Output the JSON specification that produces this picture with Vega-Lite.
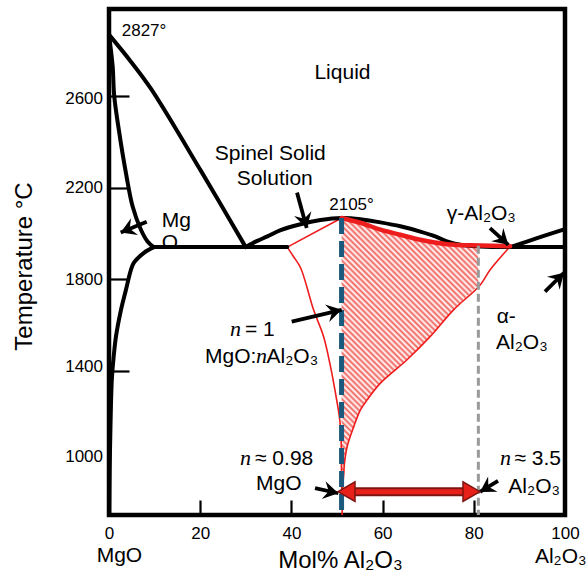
{
"$schema":"https://vega.github.io/schema/vega-lite/v6.json",
"width":456,"height":506,
"autosize":{"type":"none"},
"padding":{"left":109,"top":9,"right":22,"bottom":66},
"background":"white",
"config":{"view":{"stroke":"black","strokeWidth":4.5},"font":"Liberation Sans",
 "axis":{"domain":false,"grid":false,"tickColor":"black","tickWidth":2.2,"labelFont":"Liberation Sans","labelFontSize":17,"labelColor":"black","titleFont":"Liberation Sans","titleFontSize":24,"titleFontWeight":"normal","titleColor":"black"}},
"datasets":{
 "black":[
  {"seg":"liq1","x":0,"t":2868},{"seg":"liq1","x":4.81,"t":2750},{"seg":"liq1","x":9.19,"t":2632},{"seg":"liq1","x":20.13,"t":2274},{"seg":"liq1","x":29.98,"t":1940},
  {"seg":"solTop","x":0,"t":2868},{"seg":"solTop","x":0.8,"t":2730},{"seg":"solTop","x":1.15,"t":2599},{"seg":"solTop","x":2.25,"t":2440},{"seg":"solTop","x":3.7,"t":2265},{"seg":"solTop","x":5.2,"t":2116},{"seg":"solTop","x":7.0,"t":2016},{"seg":"solTop","x":8.45,"t":1965},{"seg":"solTop","x":9.8,"t":1940},
  {"seg":"solBot","x":9.8,"t":1940},{"seg":"solBot","x":7.66,"t":1915},{"seg":"solBot","x":5.47,"t":1872},{"seg":"solBot","x":4.81,"t":1841},{"seg":"solBot","x":3.72,"t":1754},{"seg":"solBot","x":2.63,"t":1666},{"seg":"solBot","x":1.53,"t":1550},{"seg":"solBot","x":1.03,"t":1462},{"seg":"solBot","x":0.66,"t":1375},{"seg":"solBot","x":0.44,"t":1260},{"seg":"solBot","x":0.28,"t":1112},{"seg":"solBot","x":0.15,"t":967},{"seg":"solBot","x":0.07,"t":770},
  {"seg":"eut1","x":9.8,"t":1940},{"seg":"eut1","x":39.1,"t":1940},
  {"seg":"eut2","x":87.96,"t":1940},{"seg":"eut2","x":100,"t":1940},
  {"seg":"liq2","x":29.98,"t":1940},{"seg":"liq2","x":32.39,"t":1966},{"seg":"liq2","x":34.73,"t":1987},{"seg":"liq2","x":37.64,"t":2014},{"seg":"liq2","x":42.01,"t":2040},{"seg":"liq2","x":46.39,"t":2058},{"seg":"liq2","x":51,"t":2067},{"seg":"liq2","x":55.14,"t":2062},{"seg":"liq2","x":59.52,"t":2048},{"seg":"liq2","x":63.89,"t":2031},{"seg":"liq2","x":68.27,"t":2008},{"seg":"liq2","x":71.55,"t":1987},{"seg":"liq2","x":74.11,"t":1965},{"seg":"liq2","x":77.02,"t":1950},{"seg":"liq2","x":81.4,"t":1943},{"seg":"liq2","x":87.96,"t":1940},
  {"seg":"liq3","x":87.96,"t":1940},{"seg":"liq3","x":93.87,"t":1979},{"seg":"liq3","x":100,"t":2019}
 ],
 "redtop":[
  {"x":51,"t":2067},{"x":55.8,"t":2042},{"x":59.52,"t":2016},{"x":63.89,"t":1994},{"x":68.27,"t":1972},{"x":74.11,"t":1953},{"x":81.4,"t":1947},{"x":87.96,"t":1944}
 ],
 "redthin":[
  {"seg":"L1","x":39.1,"t":1940},{"seg":"L1","x":51,"t":2067},
  {"seg":"L2","x":39.1,"t":1940},{"seg":"L2","x":40.48,"t":1898},{"seg":"L2","x":42.01,"t":1850},{"seg":"L2","x":44.86,"t":1666},{"seg":"L2","x":47.05,"t":1550},{"seg":"L2","x":48.58,"t":1418},{"seg":"L2","x":49.67,"t":1302},{"seg":"L2","x":50.61,"t":1185},{"seg":"L2","x":50.92,"t":1085},{"seg":"L2","x":50.98,"t":967},{"seg":"L2","x":51.14,"t":770},
  {"seg":"R","x":87.96,"t":1943},{"seg":"R","x":83.59,"t":1841},{"seg":"R","x":81.4,"t":1775},{"seg":"R","x":75.56,"t":1666},{"seg":"R","x":70.46,"t":1550},{"seg":"R","x":65.36,"t":1448},{"seg":"R","x":59.52,"t":1346},{"seg":"R","x":56.61,"t":1273},{"seg":"R","x":55.14,"t":1229},{"seg":"R","x":53.68,"t":1156},{"seg":"R","x":52.23,"t":1069},{"seg":"R","x":51.64,"t":996},{"seg":"R","x":51.49,"t":952},{"seg":"R","x":51.2,"t":880}
 ],
 "hatch":[
  {"t":2067,"x":51,"x2":51.0},{"t":2042,"x":51,"x2":55.8},{"t":2016,"x":51,"x2":59.52},{"t":1994,"x":51,"x2":63.89},{"t":1972,"x":51,"x2":68.27},{"t":1953,"x":51,"x2":74.11},{"t":1947,"x":51,"x2":81.0},{"t":1775,"x":51,"x2":81.0},{"t":1666,"x":51,"x2":75.56},{"t":1550,"x":51,"x2":70.46},{"t":1448,"x":51,"x2":65.36},{"t":1346,"x":51,"x2":59.52},{"t":1273,"x":51,"x2":56.61},{"t":1229,"x":51,"x2":55.14},{"t":1156,"x":51,"x2":53.68},{"t":1069,"x":51,"x2":52.23},{"t":996,"x":51,"x2":51.64},{"t":952,"x":51,"x2":51.49},{"t":900,"x":51,"x2":51.2}
 ],
 "blue":[{"x":51,"t":2067,"t2":770}],
 "grey":[{"x":81.0,"t":1946,"t2":770}],
 "arrows":[
  {"id":"mgo","x":2.57,"t":2004,"x2":8.27,"t2":2051},
  {"id":"spinel","x":43.36,"t":2023,"x2":41.23,"t2":2178},
  {"id":"gamma","x":87.57,"t":1950,"x2":83.55,"t2":2023},
  {"id":"n1","x":51.03,"t":1666,"x2":40.07,"t2":1615},
  {"id":"alpha","x":99.78,"t":1828,"x2":95.61,"t2":1746},
  {"id":"n098","x":50.29,"t":865,"x2":45.18,"t2":887},
  {"id":"n35","x":81.36,"t":871,"x2":85.31,"t2":919}
 ],
 "dbl":[{"x":52.5,"x2":79,"t":872}],
 "dblheads":[{"id":"l","x":50.22,"t":872},{"id":"r","x":81.36,"t":872}],
 "txtO":[{"x":11.56,"t":1931,"label":"O"}],
 "txtL":[
  {"x":11.56,"t":2030,"label":"Mg"},
  {"x":85.02,"t":1608,"label":"α-"},
  {"x":84.87,"t":1494,"label":"Al₂O₃"},
  {"x":29.82,"t":1550,"label":"= 1"},
  {"x":21.05,"t":1433,"label":"MgO:"},
  {"x":34.54,"t":1433,"label":"Al₂O₃"},
  {"x":32.02,"t":989,"label":"≈ 0.98"},
  {"x":32.24,"t":879,"label":"MgO"},
  {"x":88.9,"t":989,"label":"≈ 3.5"},
  {"x":87.57,"t":865,"label":"Al₂O₃"},
  {"x":74.06,"t":2060,"label":"γ-Al₂O₃"},
  {"x":-2.7,"t":566,"label":"MgO"},
  {"x":93.4,"t":559,"label":"Al₂O₃"}
 ],
 "txtC":[
  {"x":51.2,"t":2675,"label":"Liquid"},
  {"x":35.37,"t":2322,"label":"Spinel Solid"},
  {"x":36.36,"t":2213,"label":"Solution"}
 ],
 "txtDeg":[
  {"x":2.79,"t":2861,"label":"2827°"},
  {"x":48.3,"t":2103,"label":"2105°"}
 ],
 "txtN":[
  {"x":26.54,"t":1550,"label":"n"},
  {"x":32.24,"t":1433,"label":"n"},
  {"x":28.73,"t":989,"label":"n"},
  {"x":85.75,"t":989,"label":"n"}
 ]
},
"encoding":{
 "x":{"field":"x","type":"quantitative","scale":{"domain":[0,100],"nice":false,"zero":false},
  "axis":{"values":[0,20,40,60,80,100],"format":"d","tickSize":-15,"labelPadding":33.5,"labelBaseline":"middle","labelFlush":false,"labelOverlap":false,"title":"Mol% Al₂O₃","titleX":231,"titleY":45,"titleBaseline":"middle","titleAlign":"center"}},
 "y":{"field":"t","type":"quantitative","scale":{"domain":[770,2980],"nice":false,"zero":false},
  "axis":{"values":[1000,1400,1800,2200,2600],"format":"d","tickSize":-20,"labelPadding":26.5,"labelFlush":false,"labelOverlap":false,
   "tickColor":{"condition":{"test":"datum.value==1000","value":"transparent"},"value":"black"},
   "labelOffset":{"condition":[{"test":"datum.value==1000","value":-6},{"test":"datum.value==1400","value":-4},{"test":"datum.value==2600","value":2}],"value":0},
   "title":"Temperature °C","titleX":-85,"titleY":257,"titleAngle":-90,"titleBaseline":"middle","titleAlign":"center"}}
},
"layer":[
 {"data":{"name":"hatch"},"mark":{"type":"area","orient":"horizontal","stroke":null,"fillOpacity":1,
  "fill":{"gradient":"linear","x1":0,"y1":1,"x2":0.613,"y2":-0.198,"stops":[
{"offset":0,"color":"#f0625c"},{"offset":0.0071,"color":"#fff"},{"offset":0.0143,"color":"#f0625c"},{"offset":0.0214,"color":"#fff"},{"offset":0.0286,"color":"#f0625c"},{"offset":0.0357,"color":"#fff"},{"offset":0.0429,"color":"#f0625c"},{"offset":0.05,"color":"#fff"},{"offset":0.0571,"color":"#f0625c"},{"offset":0.0643,"color":"#fff"},{"offset":0.0714,"color":"#f0625c"},{"offset":0.0786,"color":"#fff"},{"offset":0.0857,"color":"#f0625c"},{"offset":0.0929,"color":"#fff"},
{"offset":0.1,"color":"#f0625c"},{"offset":0.1071,"color":"#fff"},{"offset":0.1143,"color":"#f0625c"},{"offset":0.1214,"color":"#fff"},{"offset":0.1286,"color":"#f0625c"},{"offset":0.1357,"color":"#fff"},{"offset":0.1429,"color":"#f0625c"},{"offset":0.15,"color":"#fff"},{"offset":0.1571,"color":"#f0625c"},{"offset":0.1643,"color":"#fff"},{"offset":0.1714,"color":"#f0625c"},{"offset":0.1786,"color":"#fff"},{"offset":0.1857,"color":"#f0625c"},{"offset":0.1929,"color":"#fff"},
{"offset":0.2,"color":"#f0625c"},{"offset":0.2071,"color":"#fff"},{"offset":0.2143,"color":"#f0625c"},{"offset":0.2214,"color":"#fff"},{"offset":0.2286,"color":"#f0625c"},{"offset":0.2357,"color":"#fff"},{"offset":0.2429,"color":"#f0625c"},{"offset":0.25,"color":"#fff"},{"offset":0.2571,"color":"#f0625c"},{"offset":0.2643,"color":"#fff"},{"offset":0.2714,"color":"#f0625c"},{"offset":0.2786,"color":"#fff"},{"offset":0.2857,"color":"#f0625c"},{"offset":0.2929,"color":"#fff"},
{"offset":0.3,"color":"#f0625c"},{"offset":0.3071,"color":"#fff"},{"offset":0.3143,"color":"#f0625c"},{"offset":0.3214,"color":"#fff"},{"offset":0.3286,"color":"#f0625c"},{"offset":0.3357,"color":"#fff"},{"offset":0.3429,"color":"#f0625c"},{"offset":0.35,"color":"#fff"},{"offset":0.3571,"color":"#f0625c"},{"offset":0.3643,"color":"#fff"},{"offset":0.3714,"color":"#f0625c"},{"offset":0.3786,"color":"#fff"},{"offset":0.3857,"color":"#f0625c"},{"offset":0.3929,"color":"#fff"},
{"offset":0.4,"color":"#f0625c"},{"offset":0.4071,"color":"#fff"},{"offset":0.4143,"color":"#f0625c"},{"offset":0.4214,"color":"#fff"},{"offset":0.4286,"color":"#f0625c"},{"offset":0.4357,"color":"#fff"},{"offset":0.4429,"color":"#f0625c"},{"offset":0.45,"color":"#fff"},{"offset":0.4571,"color":"#f0625c"},{"offset":0.4643,"color":"#fff"},{"offset":0.4714,"color":"#f0625c"},{"offset":0.4786,"color":"#fff"},{"offset":0.4857,"color":"#f0625c"},{"offset":0.4929,"color":"#fff"},
{"offset":0.5,"color":"#f0625c"},{"offset":0.5071,"color":"#fff"},{"offset":0.5143,"color":"#f0625c"},{"offset":0.5214,"color":"#fff"},{"offset":0.5286,"color":"#f0625c"},{"offset":0.5357,"color":"#fff"},{"offset":0.5429,"color":"#f0625c"},{"offset":0.55,"color":"#fff"},{"offset":0.5571,"color":"#f0625c"},{"offset":0.5643,"color":"#fff"},{"offset":0.5714,"color":"#f0625c"},{"offset":0.5786,"color":"#fff"},{"offset":0.5857,"color":"#f0625c"},{"offset":0.5929,"color":"#fff"},
{"offset":0.6,"color":"#f0625c"},{"offset":0.6071,"color":"#fff"},{"offset":0.6143,"color":"#f0625c"},{"offset":0.6214,"color":"#fff"},{"offset":0.6286,"color":"#f0625c"},{"offset":0.6357,"color":"#fff"},{"offset":0.6429,"color":"#f0625c"},{"offset":0.65,"color":"#fff"},{"offset":0.6571,"color":"#f0625c"},{"offset":0.6643,"color":"#fff"},{"offset":0.6714,"color":"#f0625c"},{"offset":0.6786,"color":"#fff"},{"offset":0.6857,"color":"#f0625c"},{"offset":0.6929,"color":"#fff"},
{"offset":0.7,"color":"#f0625c"},{"offset":0.7071,"color":"#fff"},{"offset":0.7143,"color":"#f0625c"},{"offset":0.7214,"color":"#fff"},{"offset":0.7286,"color":"#f0625c"},{"offset":0.7357,"color":"#fff"},{"offset":0.7429,"color":"#f0625c"},{"offset":0.75,"color":"#fff"},{"offset":0.7571,"color":"#f0625c"},{"offset":0.7643,"color":"#fff"},{"offset":0.7714,"color":"#f0625c"},{"offset":0.7786,"color":"#fff"},{"offset":0.7857,"color":"#f0625c"},{"offset":0.7929,"color":"#fff"},
{"offset":0.8,"color":"#f0625c"},{"offset":0.8071,"color":"#fff"},{"offset":0.8143,"color":"#f0625c"},{"offset":0.8214,"color":"#fff"},{"offset":0.8286,"color":"#f0625c"},{"offset":0.8357,"color":"#fff"},{"offset":0.8429,"color":"#f0625c"},{"offset":0.85,"color":"#fff"},{"offset":0.8571,"color":"#f0625c"},{"offset":0.8643,"color":"#fff"},{"offset":0.8714,"color":"#f0625c"},{"offset":0.8786,"color":"#fff"},{"offset":0.8857,"color":"#f0625c"},{"offset":0.8929,"color":"#fff"},
{"offset":0.9,"color":"#f0625c"},{"offset":0.9071,"color":"#fff"},{"offset":0.9143,"color":"#f0625c"},{"offset":0.9214,"color":"#fff"},{"offset":0.9286,"color":"#f0625c"},{"offset":0.9357,"color":"#fff"},{"offset":0.9429,"color":"#f0625c"},{"offset":0.95,"color":"#fff"},{"offset":0.9571,"color":"#f0625c"},{"offset":0.9643,"color":"#fff"},{"offset":0.9714,"color":"#f0625c"},{"offset":0.9786,"color":"#fff"},{"offset":0.9857,"color":"#f0625c"},{"offset":0.9929,"color":"#fff"},
{"offset":1,"color":"#f0625c"}
  ]}},
  "encoding":{"x2":{"field":"x2"}}},
 {"data":{"name":"redthin"},"mark":{"type":"line","color":"#ee1d1d","strokeWidth":1.6,"interpolate":"catmull-rom"},"encoding":{"detail":{"field":"seg","type":"nominal"},"order":{"value":null}}},
 {"data":{"name":"txtO"},"mark":{"type":"text","align":"left","baseline":"alphabetic","font":"Liberation Sans","fontSize":21,"color":"black"},"encoding":{"text":{"field":"label","type":"nominal"}}},
 {"data":{"name":"black"},"mark":{"type":"line","color":"black","strokeWidth":4,"strokeJoin":"round","strokeCap":"round","interpolate":"catmull-rom"},"encoding":{"detail":{"field":"seg","type":"nominal"},"order":{"value":null}}},
 {"data":{"name":"redtop"},"mark":{"type":"line","color":"#ee1d1d","strokeWidth":4.5,"strokeCap":"round","interpolate":"catmull-rom"},"encoding":{"order":{"value":null}}},
 {"data":{"name":"grey"},"mark":{"type":"rule","color":"#9a9a9a","strokeWidth":3,"strokeDash":[8,4]},"encoding":{"y2":{"field":"t2"}}},
 {"data":{"name":"blue"},"mark":{"type":"rule","color":"#1c5a7d","strokeWidth":5,"strokeDash":[16,7]},"encoding":{"y2":{"field":"t2"}}},
 {"data":{"name":"arrows"},"mark":{"type":"rule","color":"black","strokeWidth":3.8},"encoding":{"x2":{"field":"x2"},"y2":{"field":"t2"}}},
 {"data":{"name":"arrows"},"transform":[{"filter":"datum.id=='mgo'"}],"mark":{"type":"point","shape":"M0,0L1.2,2L0,1.3L-1.2,2Z","filled":true,"color":"black","size":225,"angle":-113,"opacity":1,"strokeWidth":0}},
 {"data":{"name":"arrows"},"transform":[{"filter":"datum.id=='spinel'"}],"mark":{"type":"point","shape":"M0,0L1.2,2L0,1.3L-1.2,2Z","filled":true,"color":"black","size":225,"angle":164.6,"opacity":1,"strokeWidth":0}},
 {"data":{"name":"arrows"},"transform":[{"filter":"datum.id=='gamma'"}],"mark":{"type":"point","shape":"M0,0L1.2,2L0,1.3L-1.2,2Z","filled":true,"color":"black","size":225,"angle":132.4,"opacity":1,"strokeWidth":0}},
 {"data":{"name":"arrows"},"transform":[{"filter":"datum.id=='n1'"}],"mark":{"type":"point","shape":"M0,0L1.2,2L0,1.3L-1.2,2Z","filled":true,"color":"black","size":225,"angle":76.8,"opacity":1,"strokeWidth":0}},
 {"data":{"name":"arrows"},"transform":[{"filter":"datum.id=='alpha'"}],"mark":{"type":"point","shape":"M0,0L1.2,2L0,1.3L-1.2,2Z","filled":true,"color":"black","size":225,"angle":45.5,"opacity":1,"strokeWidth":0}},
 {"data":{"name":"arrows"},"transform":[{"filter":"datum.id=='n098'"}],"mark":{"type":"point","shape":"M0,0L1.2,2L0,1.3L-1.2,2Z","filled":true,"color":"black","size":225,"angle":102.1,"opacity":1,"strokeWidth":0}},
 {"data":{"name":"arrows"},"transform":[{"filter":"datum.id=='n35'"}],"mark":{"type":"point","shape":"M0,0L1.2,2L0,1.3L-1.2,2Z","filled":true,"color":"black","size":225,"angle":-121.4,"opacity":1,"strokeWidth":0}},
 {"data":{"name":"dbl"},"mark":{"type":"rule","color":"#7d1512","strokeWidth":9},"encoding":{"x2":{"field":"x2"}}},
 {"data":{"name":"dbl"},"mark":{"type":"rule","color":"#e8201a","strokeWidth":5},"encoding":{"x2":{"field":"x2"}}},
 {"data":{"name":"dblheads"},"transform":[{"filter":"datum.id=='l'"}],"mark":{"type":"point","shape":"M0,0L1.15,2L-1.15,2Z","filled":true,"fill":"#e8201a","stroke":"#7d1512","strokeWidth":1.5,"size":289,"angle":-90,"opacity":1}},
 {"data":{"name":"dblheads"},"transform":[{"filter":"datum.id=='r'"}],"mark":{"type":"point","shape":"M0,0L1.15,2L-1.15,2Z","filled":true,"fill":"#e8201a","stroke":"#7d1512","strokeWidth":1.5,"size":289,"angle":90,"opacity":1}},
 {"data":{"name":"txtL"},"mark":{"type":"text","align":"left","baseline":"alphabetic","font":"Liberation Sans","fontSize":21,"color":"black"},"encoding":{"text":{"field":"label","type":"nominal"}}},
 {"data":{"name":"txtC"},"mark":{"type":"text","align":"center","baseline":"alphabetic","font":"Liberation Sans","fontSize":21,"color":"black"},"encoding":{"text":{"field":"label","type":"nominal"}}},
 {"data":{"name":"txtDeg"},"mark":{"type":"text","align":"left","baseline":"alphabetic","font":"Liberation Sans","fontSize":17,"color":"black"},"encoding":{"text":{"field":"label","type":"nominal"}}},
 {"data":{"name":"txtN"},"mark":{"type":"text","align":"left","baseline":"alphabetic","font":"Liberation Serif","fontStyle":"italic","fontSize":22,"color":"black"},"encoding":{"text":{"field":"label","type":"nominal"}}}
]
}
